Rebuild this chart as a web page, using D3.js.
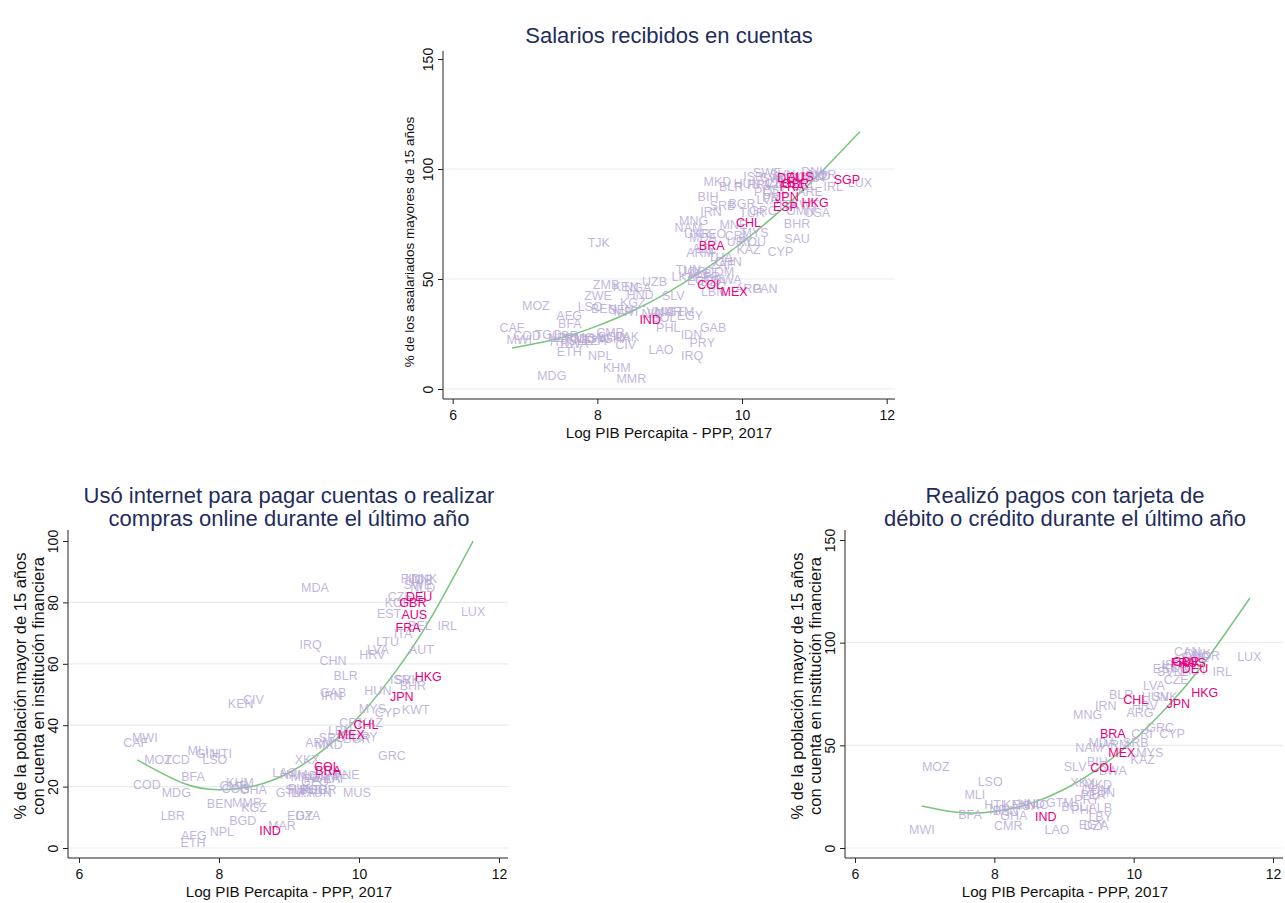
<!DOCTYPE html>
<html><head><meta charset="utf-8">
<script src="https://cdn.jsdelivr.net/npm/d3@7"></script>
<style>body{margin:0;background:#fff}svg{display:block}text{font-family:"Liberation Sans",Arial,sans-serif}</style>
</head><body><svg id="c" width="1285" height="903"></svg>
<script>
// ---------- DATA ----------
const highlighted = ["SGP","AUS","DEU","GBR","FRA","JPN","ESP","HKG","CHL","BRA","COL","MEX","IND"];

// Panel 1: Salarios recibidos en cuentas
const p1Codes = ["CAF","MWI","COD","TGO","MOZ","AFG","BFA","NER","TCD","MLI","HTI","RWA","LBR","UGA","ETH","GIN","SLE","MDG","NPL","KHM","MMR","CMR","BEN","SEN","LSO","ZWE","ZMB","KEN","NGA","GHA","TZA","PAK","CIV","BGD","KGZ","HND","MRT","TJK","UZB","VNM","NIC","SLV","BOL","MAR","EGY","PHL","LAO","IDN","PRY","IRQ","GAB","GTM","TUN","LKA","JOR","ECU","PER","DZA","DOM","ZAF","ALB","BWA","LBN","ARG","PAN","ARM","AZE","THA","CHN","MKD","BLR","BIH","SRB","BGR","IRN","MNG","NAM","UKR","GEO","MDA","MNE","KAZ","ROU","URY","CRI","MYS","TUR","CYP","BHR","SAU","GRC","HRV","HUN","POL","PRT","ISR","SVK","SVN","LTU","LVA","ITA","SWE","CZE","KOR","DNK","NLD","NOR","AUT","CAN","BEL","USA","ARE","KWT","OMN","IRL","LUX","EST","NZL","COL","MEX","IND","BRA","CHL","ESP","JPN","FRA","GBR","DEU","AUS","HKG","SGP"];
const p1X = [6.82,6.92,7.03,7.32,7.15,7.61,7.62,7.50,7.69,7.82,7.48,7.68,7.57,7.89,7.61,8.01,7.76,7.37,8.04,8.27,8.47,8.18,8.09,8.33,7.90,8.01,8.12,8.39,8.56,8.27,7.96,8.41,8.39,8.20,8.49,8.59,8.41,8.02,8.79,8.87,8.76,9.05,8.92,8.98,9.28,8.98,8.88,9.30,9.45,9.31,9.60,9.15,9.26,9.19,9.33,9.42,9.52,9.60,9.69,9.73,9.42,9.80,9.60,10.09,10.32,9.42,9.48,9.70,9.81,9.66,9.85,9.53,9.73,10.00,9.57,9.33,9.26,9.38,9.59,9.46,9.88,10.09,10.14,9.97,9.91,10.18,10.14,10.53,10.76,10.76,10.29,10.25,10.07,10.34,10.45,10.16,10.42,10.56,10.50,10.35,10.64,10.35,10.48,10.60,11.00,11.05,11.11,11.01,10.95,10.87,11.04,10.94,10.87,10.81,11.26,11.63,10.45,10.62,9.56,9.89,8.73,9.58,10.09,10.60,10.62,10.69,10.74,10.67,10.81,11.01,11.45];
const p1Y = [27.7,22.3,24.1,24.5,37.7,33.2,29.5,23.2,22.7,22.7,21.4,20.5,24.1,23.2,16.8,22.7,21.8,5.9,15.0,9.5,4.5,25.5,36.4,35.9,37.3,42.3,47.3,46.4,45.9,22.7,21.8,23.6,20.0,23.6,39.1,42.7,35.0,66.4,48.6,35.0,34.1,42.3,32.3,35.0,33.2,27.7,17.7,24.5,20.9,15.0,27.7,35.0,54.1,50.9,53.2,49.1,50.9,48.6,53.2,56.4,52.3,49.5,44.1,45.5,45.5,61.8,63.6,59.5,57.7,94.1,91.8,87.3,83.2,84.1,80.5,76.4,73.2,70.5,70.5,68.6,74.5,63.2,66.8,66.8,69.5,70.9,80.0,62.3,75.0,68.2,80.9,92.7,93.2,89.5,86.8,96.4,95.9,97.3,93.6,85.9,83.6,98.2,93.2,95.5,98.6,96.8,97.3,95.9,96.4,92.3,80.0,89.5,83.6,80.9,91.8,93.6,90.5,93.2,47.3,44.1,31.4,65.0,75.5,82.7,87.3,91.8,93.2,96.0,96.4,84.5,95.0];
const fit1X = [6.82,7.5,8.0,8.5,9.0,9.5,10.0,10.5,11.0,11.63];
const fit1Y = [18.6,23.3,28.7,35.7,44.4,54.7,66.6,80.2,95.4,117.0];

// Panel 2: Usó internet para pagar cuentas o realizar compras online
const p2Codes = ["CAF","MWI","MOZ","TCD","COD","MDG","BFA","MLI","GIN","HTI","LSO","LBR","AFG","ETH","NPL","BEN","BGD","MAR","MMR","KGZ","KHM","CMR","KEN","CIV","GHA","COG","LAO","EGY","DZA","SLV","GTM","PHL","BOL","TUN","LKA","JOR","PER","MUS","NAM","MNG","PRY","DOM","ZAF","GEO","MNE","UKR","XKX","ARM","MKD","SRB","LBN","CRI","KAZ","BGR","URY","GRC","MYS","CYP","KWT","BHR","ISR","SVK","HUN","BLR","GAB","IRN","CHN","IRQ","MDA","HRV","LVA","LTU","ITA","AUT","BEL","IRL","LUX","EST","CZE","KOR","GBR","FIN","DNK","NLD","SWE","NOR","IND","COL","BRA","MEX","CHL","JPN","HKG","FRA","AUS","DEU"];
const p2X = [6.81,6.94,7.13,7.40,6.97,7.39,7.63,7.70,7.83,8.04,7.94,7.34,7.64,7.63,8.04,8.01,8.34,8.90,8.40,8.50,8.30,8.21,8.31,8.49,8.49,8.24,8.94,9.16,9.27,9.11,9.01,9.16,9.33,9.43,9.20,9.50,9.37,9.97,9.07,9.23,9.39,9.49,9.67,9.37,9.81,9.55,9.26,9.43,9.57,9.61,9.73,9.87,10.17,9.97,10.08,10.47,10.19,10.41,10.81,10.77,10.59,10.69,10.27,9.81,9.63,9.61,9.63,9.31,9.37,10.19,10.27,10.41,10.63,10.89,10.87,11.26,11.63,10.43,10.59,10.56,10.77,10.74,10.93,10.91,10.84,10.86,8.73,9.54,9.56,9.89,10.10,10.61,10.99,10.70,10.79,10.86];
const p2Y = [34.2,35.8,28.7,28.7,20.8,17.9,23.1,31.6,30.6,30.6,28.7,10.7,3.9,1.6,5.2,14.3,8.8,7.2,14.7,13.0,21.2,20.2,46.9,48.2,18.9,19.5,24.4,10.7,10.7,18.9,17.9,19.2,18.9,18.2,17.9,18.9,18.9,18.2,23.8,23.1,22.5,23.5,22.5,21.5,23.8,22.8,28.7,34.2,33.6,35.8,38.1,41.0,41.0,35.5,36.2,30.0,45.3,44.0,45.0,52.8,55.0,55.0,51.1,56.0,50.5,49.5,60.9,66.4,84.7,62.9,64.5,67.1,69.7,64.5,72.3,72.3,76.9,76.5,81.8,79.8,79.8,87.9,87.9,84.7,85.7,87.3,5.5,26.4,25.1,36.8,40.1,49.2,55.7,71.7,75.9,81.8];
const fit2X = [6.83,7.5,8.0,8.5,9.0,9.5,10.0,10.5,11.0,11.63];
const fit2Y = [28.7,21.0,19.0,20.2,24.5,32.1,42.8,56.8,73.9,100.0];

// Panel 3: Realizó pagos con tarjeta de débito o crédito
const p3Codes = ["MWI","MOZ","BFA","MLI","LSO","HTI","BEN","CMR","KEN","NGA","GHA","NPL","NIC","HND","GTM","LAO","BOL","PHL","EGY","DZA","LBY","ALB","PRY","PER","TUN","DOM","XKX","MKD","SLV","BIH","BWA","KAZ","MYS","NAM","MDA","ARM","SRB","CRI","CYP","GRC","MNG","IRN","ARG","HRV","BLR","HUN","SVK","LVA","CZE","EST","KOR","SVN","ISR","AUT","CAN","DNK","NOR","SWE","GBR","IRL","LUX","IND","COL","MEX","BRA","CHL","JPN","HKG","DEU","FRA","AUS"];
const p3X = [6.96,7.16,7.65,7.72,7.94,8.00,8.16,8.20,8.31,8.45,8.28,8.10,8.62,8.53,8.94,8.90,9.14,9.28,9.40,9.46,9.52,9.52,9.33,9.42,9.55,9.46,9.27,9.49,9.16,9.48,9.70,10.13,10.23,9.36,9.55,9.74,10.03,10.12,10.55,10.38,9.34,9.60,10.09,10.16,9.82,10.31,10.45,10.29,10.61,10.45,10.60,10.52,10.55,10.88,10.77,10.92,11.04,10.88,10.75,11.27,11.66,8.74,9.56,9.83,9.70,10.03,10.64,11.02,10.88,10.71,10.85];
const p3Y = [8.8,39.5,16.1,25.8,32.1,20.9,18.0,10.7,20.9,20.4,15.6,18.5,20.9,21.5,21.9,8.8,20.0,18.5,11.2,10.7,15.1,19.5,23.4,25.8,27.0,28.3,31.7,30.7,39.5,41.9,37.5,42.9,46.3,48.7,51.1,50.2,51.1,55.5,55.5,58.4,64.8,69.2,65.8,69.2,74.5,73.5,73.5,78.9,81.8,87.2,87.7,85.7,89.1,86.2,95.5,94.6,93.6,92.6,91.0,85.7,93.0,15.1,39.0,46.3,55.5,72.1,70.1,75.5,87.2,90.1,90.1];
const fit3X = [6.96,7.5,8.0,8.5,9.0,9.5,10.0,10.5,11.0,11.67];
const fit3Y = [20.5,17.3,17.8,21.5,28.5,38.9,52.5,69.4,89.6,121.8];

const xTicks = [6,8,10,12];
const p1YTicks = [0,50,100,150];
const p2YTicks = [0,20,40,60,80,100];
const p3YTicks = [0,50,100,150];

// ---------- DRAW ----------
const svg = d3.select("#c");
const NAVY = "#1f2d5c", LAV = "#b6a9d7", PINK = "#e8007e", GREEN = "#79c57b", GRID = "#e5edee";

const panels = [
  {codes:p1Codes, xs:p1X, ys:p1Y, fx:fit1X, fy:fit1Y, yTicks:p1YTicks,
   xr:[443,895], xt:[452.7,886.7], yr:[399,51], yd:[0,150], yt:[389,59],
   title:["Salarios recibidos en cuentas"], titleX:669, titleY:[43],
   ylab:["% de los asalariados mayores de 15 años"], ylabX:[409], ylabSize:13.5, ylabCY:242, xlabX:669, xlabY:438},
  {codes:p2Codes, xs:p2X, ys:p2Y, fx:fit2X, fy:fit2Y, yTicks:p2YTicks,
   xr:[68,508], xt:[79,499], yr:[858,530], yd:[0,100], yt:[848,541],
   title:["Usó internet para pagar cuentas o realizar","compras online durante el último año"], titleX:289, titleY:[503,526],
   ylab:["% de la población mayor de 15 años","con cuenta en institución financiera"], ylabX:[20,38], ylabSize:16.5, ylabCY:686, xlabX:289, xlabY:897},
  {codes:p3Codes, xs:p3X, ys:p3Y, fx:fit3X, fy:fit3Y, yTicks:p3YTicks,
   xr:[845,1283], xt:[855,1273], yr:[858,530], yd:[0,150], yt:[848,540],
   title:["Realizó pagos con tarjeta de","débito o crédito durante el último año"], titleX:1065, titleY:[503,526],
   ylab:["% de la población mayor de 15 años","con cuenta en institución financiera"], ylabX:[797,815], ylabSize:16.5, ylabCY:686, xlabX:1065, xlabY:897}
];

panels.forEach(p => {
  const x = d3.scaleLinear().domain([6,12]).range(p.xt);
  const y = d3.scaleLinear().domain(p.yd).range(p.yt);
  const g = svg.append("g");
  // gridlines
  g.selectAll("line.grid").data(p.yTicks.filter(t => t < p.yd[1])).enter().append("line")
    .attr("x1", p.xr[0]+1).attr("x2", p.xr[1]).attr("y1", d=>y(d)).attr("y2", d=>y(d))
    .attr("stroke", GRID).attr("stroke-width", 1.2);
  // x axis
  const xa = g.append("g").attr("transform", `translate(0,${p.yr[0]})`)
    .call(d3.axisBottom(x).tickValues(xTicks).tickSize(5).tickSizeOuter(0).tickFormat(d3.format("d")));
  xa.select(".domain").remove();
  xa.selectAll("text").attr("font-size", 14).attr("fill", "#111").attr("dy", "0.95em")
    .style("font-family","'Liberation Sans',Arial,sans-serif");
  xa.selectAll("line").attr("stroke", "#222");
  g.append("line").attr("x1", p.xr[0]).attr("x2", p.xr[1]).attr("y1", p.yr[0]).attr("y2", p.yr[0]).attr("stroke", "#222");
  // y axis
  const ya = g.append("g").attr("transform", `translate(${p.xr[0]},0)`)
    .call(d3.axisLeft(y).tickValues(p.yTicks).tickSize(5).tickSizeOuter(0).tickFormat(d3.format("d")));
  ya.select(".domain").remove();
  ya.selectAll("line").attr("stroke", "#222");
  ya.selectAll("text").attr("font-size", 14).attr("fill", "#111")
    .style("font-family","'Liberation Sans',Arial,sans-serif")
    .attr("text-anchor","middle").attr("x", 0).attr("y", 0).attr("dy", 0)
    .attr("transform", "translate(-10,0) rotate(-90)");
  g.append("line").attr("x1", p.xr[0]).attr("x2", p.xr[0]).attr("y1", p.yr[0]).attr("y2", p.yr[1]).attr("stroke", "#222");
  // fit line
  const pts = p.fx.map((d,i)=>[d,p.fy[i]]);
  g.append("path").attr("d", d3.line().x(d=>x(d[0])).y(d=>y(d[1])).curve(d3.curveNatural)(pts))
    .attr("fill","none").attr("stroke", GREEN).attr("stroke-width", 1.5);
  // labels
  const rows = p.codes.map((c,i)=>({c, x:p.xs[i], y:p.ys[i], h: highlighted.includes(c)}));
  rows.sort((a,b)=>a.h - b.h);
  g.selectAll("text.lab").data(rows).enter().append("text")
    .attr("x", d=>x(d.x)).attr("y", d=>y(d.y)).attr("dy","0.35em")
    .attr("text-anchor","middle").attr("font-size", 12.5)
    .attr("fill", d=>d.h?PINK:LAV).attr("fill-opacity", d=>d.h?1:0.85).text(d=>d.c);
  // titles
  p.title.forEach((t,i)=>svg.append("text").attr("x", p.titleX).attr("y", p.titleY[i])
    .attr("text-anchor","middle").attr("font-size", 22).attr("fill", NAVY).text(t));
  // x label
  svg.append("text").attr("x", p.xlabX).attr("y", p.xlabY).attr("text-anchor","middle")
    .attr("font-size", 15.2).attr("fill","#111").text("Log PIB Percapita - PPP, 2017");
  // y label
  p.ylab.forEach((t,i)=>svg.append("text").attr("transform", `translate(${p.ylabX[i]},${p.ylabCY}) rotate(-90)`)
    .attr("text-anchor","middle").attr("font-size", p.ylabSize).attr("fill","#111").attr("dy","0.35em").text(t));
});
</script></body></html>
